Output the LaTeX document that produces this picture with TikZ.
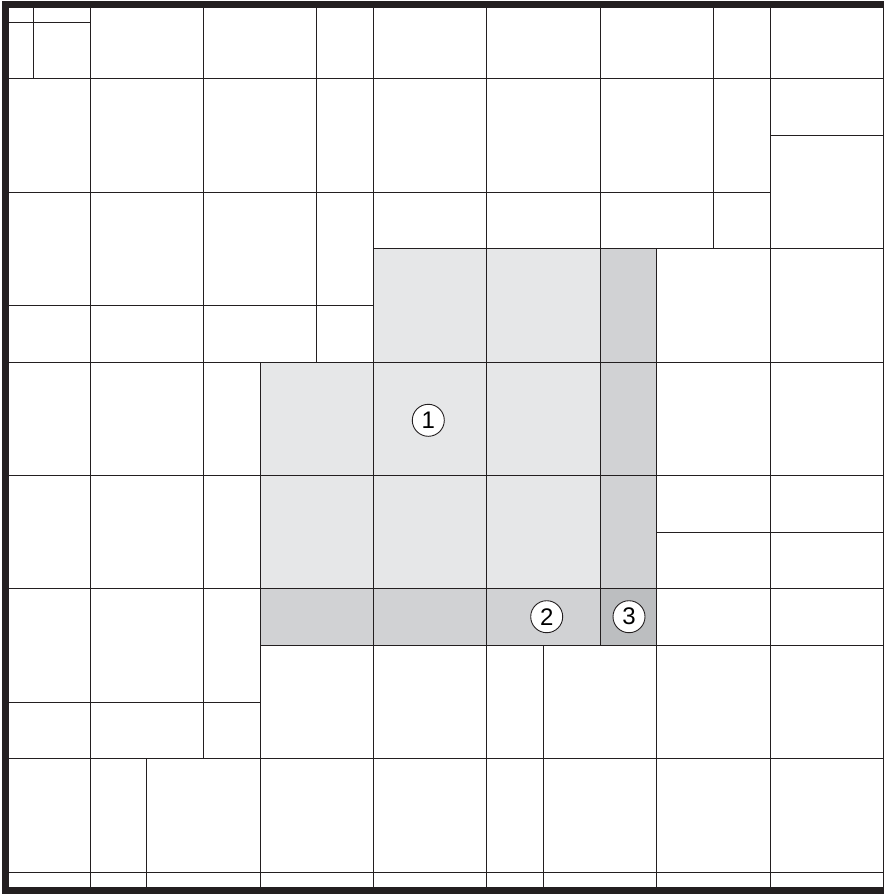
\documentclass[tikz,border=0pt]{standalone}
\usepackage{fontspec}
\setmainfont{Liberation Sans}
\definecolor{inkc}{HTML}{231F20}
\definecolor{shA}{HTML}{E6E7E8}
\definecolor{shB}{HTML}{D1D2D4}
\definecolor{shC}{HTML}{BCBEC0}
\begin{document}
\begin{tikzpicture}[x=1pt,y=-1pt,
  gridline/.style={draw=inkc,line width=1pt},
  frame/.style={draw=inkc,line width=7pt},
  numlabel/.style={circle,draw=inkc,fill=white,line width=0.9pt,minimum size=32pt,inner sep=0pt,font=\fontsize{24}{24}\selectfont}]
\useasboundingbox (0,0) rectangle (884,894);
% shading
\fill[shA] (373.3,248.7) -- (600,248.7) -- (600,588.7) -- (260,588.7) -- (260,362) -- (373.3,362) -- cycle;
\fill[shB] (600,248.7) rectangle (656.7,588.7);
\fill[shB] (260,588.7) rectangle (600,645.3);
\fill[shC] (600,588.7) rectangle (656.7,645.3);
% horizontal lines
\draw[gridline] (8,22) -- (90,22);
\draw[gridline] (8,78.7) -- (883.3,78.7);
\draw[gridline] (770,135.3) -- (883.3,135.3);
\draw[gridline] (8,192) -- (770,192);
\draw[gridline] (373.3,248.7) -- (883.3,248.7);
\draw[gridline] (8,305.3) -- (373.3,305.3);
\draw[gridline] (8,362) -- (883.3,362);
\draw[gridline] (8,475.3) -- (883.3,475.3);
\draw[gridline] (656.7,532) -- (883.3,532);
\draw[gridline] (8,588.7) -- (883.3,588.7);
\draw[gridline] (260,645.3) -- (883.3,645.3);
\draw[gridline] (8,702) -- (260,702);
\draw[gridline] (8,758.7) -- (883.3,758.7);
\draw[gridline] (8,872) -- (883.3,872);
% vertical lines
\draw[gridline] (33.3,8) -- (33.3,78.7);
\draw[gridline] (90,8) -- (90,887);
\draw[gridline] (146.7,758.7) -- (146.7,887);
\draw[gridline] (203.3,8) -- (203.3,758.7);
\draw[gridline] (260,362) -- (260,887);
\draw[gridline] (316.7,8) -- (316.7,362);
\draw[gridline] (373.3,8) -- (373.3,887);
\draw[gridline] (486.7,8) -- (486.7,887);
\draw[gridline] (543.3,645.3) -- (543.3,887);
\draw[gridline] (600,8) -- (600,645.3);
\draw[gridline] (656.7,248.7) -- (656.7,887);
\draw[gridline] (713.3,8) -- (713.3,248.7);
\draw[gridline] (770,8) -- (770,887);
\draw[gridline] (883.3,8) -- (883.3,887);
% frame
\draw[frame] (884,4.5) -- (5,4.5) -- (5,890.5) -- (884,890.5);
% labels
\node[numlabel] (n1) at (428.3,420.3) {1};
\node[numlabel] (n2) at (546.7,616.7) {2};
\node[numlabel] (n3) at (629,616.7) {3};
\end{tikzpicture}
\end{document}
